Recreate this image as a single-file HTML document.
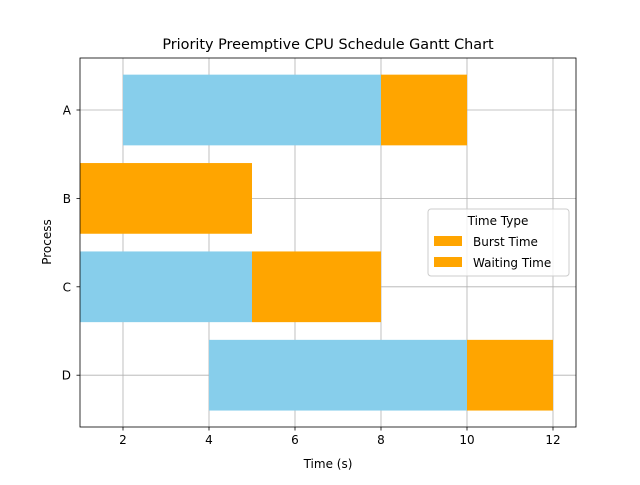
<!DOCTYPE html>
<html><head><meta charset="utf-8"><style>
body{margin:0;background:#fff;}
svg{font-family:"DejaVu Sans","Liberation Sans",sans-serif;}
</style></head><body>
<svg id="chart" width="640" height="480" viewBox="0 0 640 480">
<text x="328" y="49" font-size="14.4" text-anchor="middle">Priority Preemptive CPU Schedule Gantt Chart</text>
<g id="grid"></g>
<g id="bars"></g>
<rect x="80" y="58" width="496" height="369" fill="none" stroke="#000" stroke-width="0.8"/>
<g id="ticks"></g>
<text x="328" y="468" font-size="12" text-anchor="middle">Time (s)</text>
<text x="0" y="0" font-size="12" text-anchor="middle" transform="translate(51,242) rotate(-90)">Process</text>
<g>
<rect x="428" y="209" width="141" height="67" rx="3" fill="#fff" fill-opacity="0.8" stroke="#ccc"/>
<text x="498" y="225" font-size="12" text-anchor="middle">Time Type</text>
<rect x="434" y="236" width="28" height="10" fill="#ffa500"/>
<text x="473" y="246" font-size="12">Burst Time</text>
<rect x="434" y="257" width="28" height="10" fill="#ffa500"/>
<text x="473" y="267" font-size="12">Waiting Time</text>
</g>
</svg>
<script>
const processes=["A","B","C","D"];
const burstStart=[2,1,1,4];
const burstEnd=[8,1,5,10];
const waitStart=[8,1,5,10];
const waitEnd=[10,5,8,12];
const xTicks=[2,4,6,8,10,12];
const X0=80,X1=576,xmin=1,xmax=12.535;
const x=v=>X0+(v-xmin)/(xmax-xmin)*(X1-X0);
const yc=i=>110+i*88.4;
const bh=70.7;
const NS="http://www.w3.org/2000/svg";
function mk(tag,attrs,parent){const e=document.createElementNS(NS,tag);for(const k in attrs)e.setAttribute(k,attrs[k]);document.getElementById(parent).appendChild(e);return e;}
xTicks.forEach(t=>{
 const g=mk("line",{x1:x(t),x2:x(t),y1:58,y2:427,stroke:"#b0b0b0","stroke-width":0.8},"grid");
 
 
 const tk=mk("line",{x1:x(t),x2:x(t),y1:427,y2:430.5,stroke:"#000","stroke-width":0.8},"ticks");
 
 
 const tl=mk("text",{x:x(t),y:444,"font-size":12,"text-anchor":"middle"},"ticks");
 tl.textContent=t;
 
 
});
processes.forEach((p,i)=>{
 const g=mk("line",{x1:80,x2:576,y1:yc(i),y2:yc(i),stroke:"#b0b0b0","stroke-width":0.8},"grid");
 
 
 const tk=mk("line",{x1:76.5,x2:80,y1:yc(i),y2:yc(i),stroke:"#000","stroke-width":0.8},"ticks");
 
 
 const tl=mk("text",{x:71,y:yc(i)+4.5,"font-size":12,"text-anchor":"end"},"ticks");
 tl.textContent=p;
 
 
 if(burstEnd[i]>burstStart[i]){
  const b=mk("rect",{x:x(burstStart[i]),y:yc(i)-bh/2,width:x(burstEnd[i])-x(burstStart[i]),height:bh,fill:"#87ceeb"},"bars");
  
  
 }
 const w=mk("rect",{x:x(waitStart[i]),y:yc(i)-bh/2,width:x(waitEnd[i])-x(waitStart[i]),height:bh,fill:"#ffa500"},"bars");
 
 
});
</script>
</body></html>
